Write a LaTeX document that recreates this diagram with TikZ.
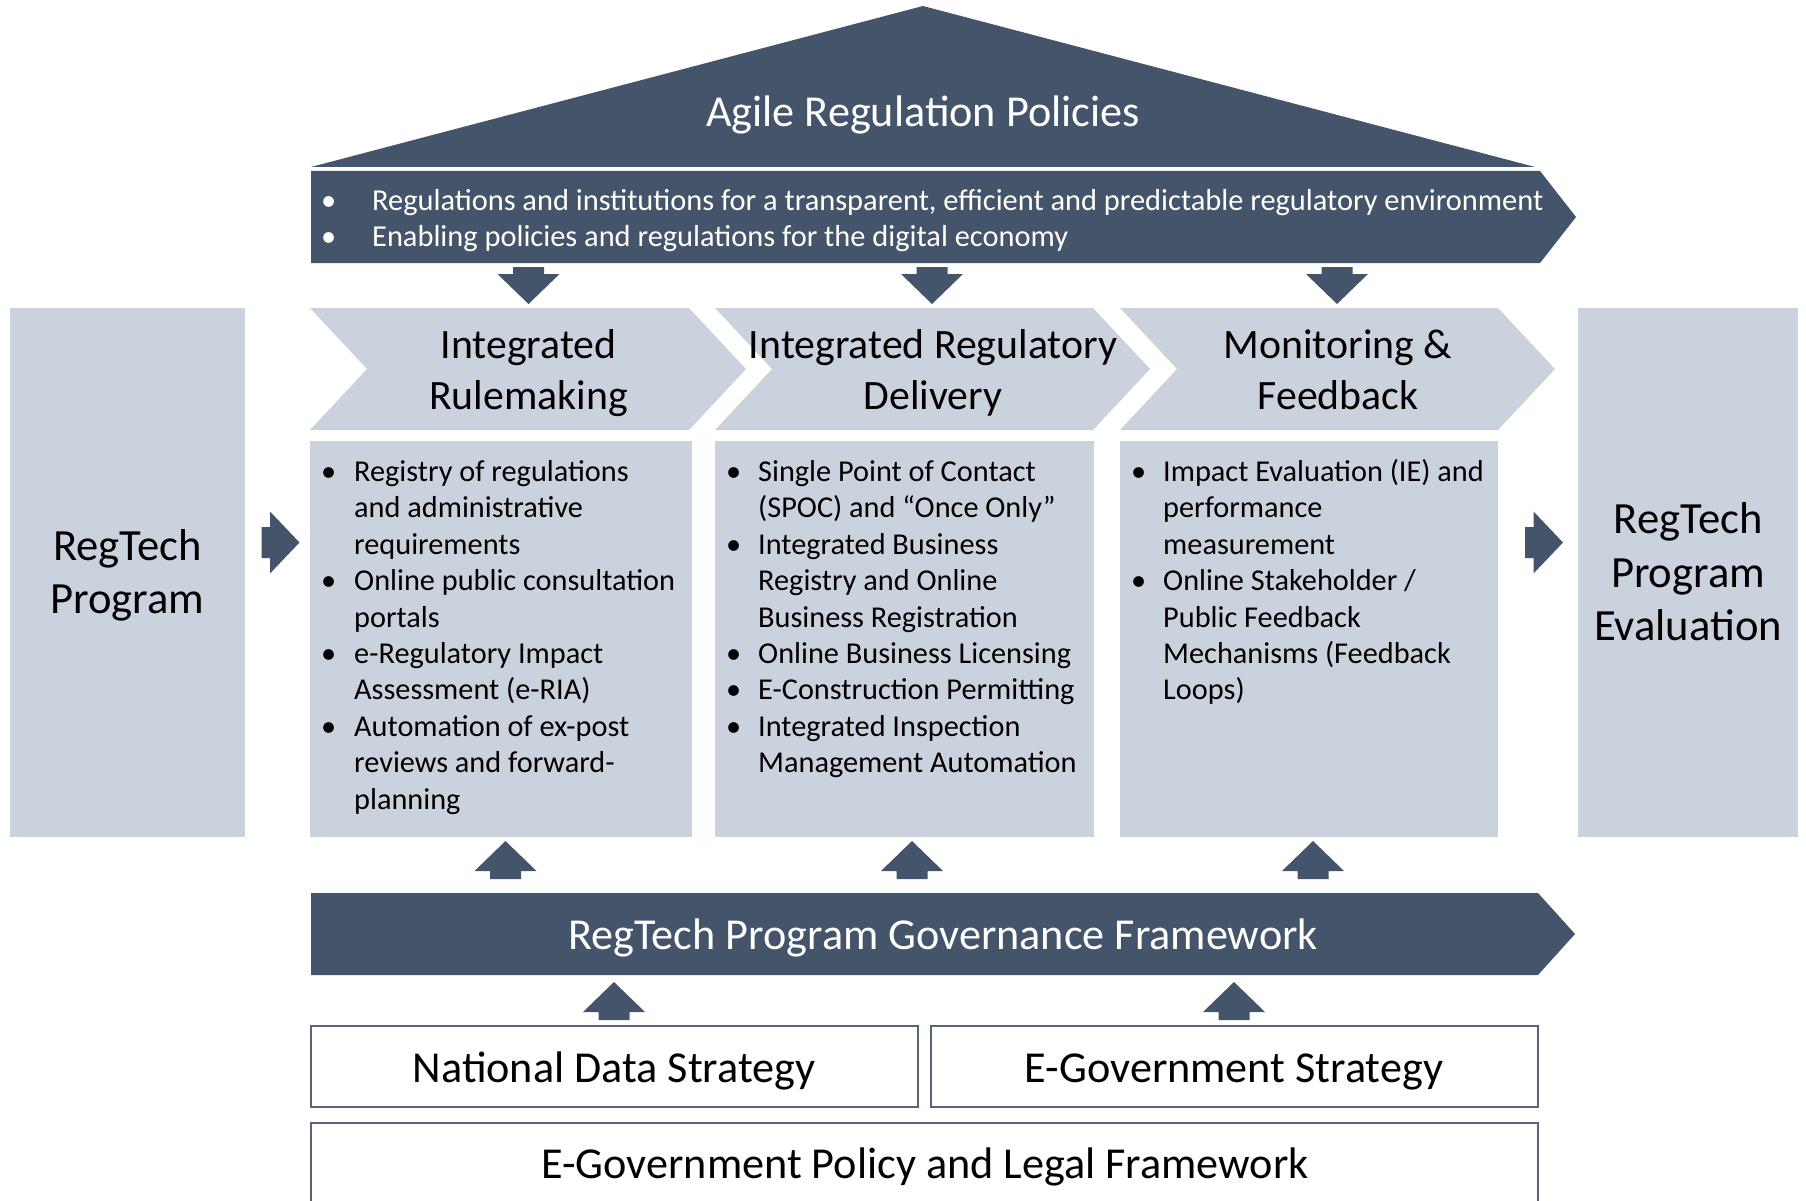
\documentclass[tikz,border=0pt]{standalone}
\usepackage{fontspec}
\setmainfont{Carlito}
\definecolor{darkc}{HTML}{44546A}
\definecolor{lightc}{HTML}{CAD2DE}
\newcommand\bul[1]{\makebox[#1][l]{\textbullet}}
\newcommand\ind[1]{\hspace*{#1}}
% block arrows: center x, start y / x
\newcommand\arrdown[2]{\fill[darkc] (#1-15.5,#2) -- (#1+15.5,#2) -- (#1+15.5,#2+7) -- (#1+31,#2+7) -- (#1,#2+37) -- (#1-31,#2+7) -- (#1-15.5,#2+7) -- cycle;}
\newcommand\arrup[2]{\fill[darkc] (#1-15.5,#2) -- (#1+15.5,#2) -- (#1+15.5,#2-8) -- (#1+31,#2-8) -- (#1,#2-38) -- (#1-31,#2-8) -- (#1-15.5,#2-8) -- cycle;}
\newcommand\arrright[2]{\fill[darkc] (#1,#2-15.5) -- (#1,#2+15.5) -- (#1+8.5,#2+15.5) -- (#1+8.5,#2+31) -- (#1+38,#2) -- (#1+8.5,#2-31) -- (#1+8.5,#2-15.5) -- cycle;}
\newcommand\chevron[2]{\fill[lightc] (#1,308) -- (#2,308) -- (#2+57,369) -- (#2,430) -- (#1,430) -- (#1+57,369) -- cycle;}
\begin{document}
\begin{tikzpicture}[x=1pt,y=-1pt,
  big/.style={font=\fontsize{44.2}{53.3}\selectfont, inner sep=0pt},
  side/.style={font=\fontsize{44.6}{53.3}\selectfont, inner sep=0pt},
  hdr/.style={font=\fontsize{41.8}{50.5}\selectfont, inner sep=0pt},
  body/.style={font=\fontsize{30.3}{36.4}\selectfont, inner sep=0pt, align=left},
  bannertxt/.style={font=\fontsize{30.4}{35.6}\selectfont, inner sep=0pt, align=left, text=white},
  outbox/.style={draw=darkc!90, line width=1.6pt, fill=white}]
\useasboundingbox (0,0) rectangle (1806,1201);
\fill[white] (0,0) rectangle (1806,1201);

% roof and banner
\fill[darkc] (311,167) -- (923,6) -- (1535,167) -- cycle;
\node[big, text=white, anchor=base] (roof) at (923,126.5) {Agile Regulation Policies};
\fill[darkc] (311,171) -- (1540,171) -- (1576,217) -- (1540,263) -- (311,263) -- cycle;
% anchor=base refers to the last line
\node[bannertxt, anchor=base west] (banner) at (321,246)
  {\bul{51pt}Regulations and institutions for a transparent, efficient and predictable regulatory environment\\
   \bul{51pt}Enabling policies and regulations for the digital economy};

% down arrows
\arrdown{528.5}{267}
\arrdown{932}{267}
\arrdown{1337}{267}

% chevrons
\chevron{310}{689}
\chevron{715}{1093}
\chevron{1120}{1498}
\node[hdr, anchor=base, align=center] (h1) at (528.5,409) {Integrated\\Rulemaking};
\node[hdr, anchor=base, align=center] (h2) at (933,409) {Integrated Regulatory\\Delivery};
\node[hdr, anchor=base, align=center] (h3) at (1338,409) {Monitoring \&\\Feedback};

% side boxes
\fill[lightc] (10,308) rectangle (245,837);
\fill[lightc] (1578,308) rectangle (1798,837);
\node[side, anchor=base, align=center] (prog) at (127.5,613.5) {RegTech\\Program};
\node[side, anchor=base, align=center] (eval) at (1688,640.5) {RegTech\\Program\\Evaluation};
\arrright{261.5}{542.5}
\arrright{1525}{542.5}

% content boxes
\fill[lightc] (310,441) rectangle (692,837);
\fill[lightc] (715,441) rectangle (1094,837);
\fill[lightc] (1120,441) rectangle (1498,837);
\node[body, anchor=base west] (c1) at (321,809)
  {\bul{33pt}Registry of regulations\\
   \ind{33pt}and administrative\\
   \ind{33pt}requirements\\
   \bul{33pt}Online public consultation\\
   \ind{33pt}portals\\
   \bul{33pt}e-Regulatory Impact\\
   \ind{33pt}Assessment (e-RIA)\\
   \bul{33pt}Automation of ex-post\\
   \ind{33pt}reviews and forward-\\
   \ind{33pt}planning};
\node[body, anchor=base west] (c2) at (726,772.6)
  {\bul{32pt}Single Point of Contact\\
   \ind{32pt}(SPOC) and “Once Only”\\
   \bul{32pt}Integrated Business\\
   \ind{32pt}Registry and Online\\
   \ind{32pt}Business Registration\\
   \bul{32pt}Online Business Licensing\\
   \bul{32pt}E-Construction Permitting\\
   \bul{32pt}Integrated Inspection\\
   \ind{32pt}Management Automation};
\node[body, anchor=base west] (c3) at (1131,699.8)
  {\bul{32pt}Impact Evaluation (IE) and\\
   \ind{32pt}performance\\
   \ind{32pt}measurement\\
   \bul{32pt}Online Stakeholder /\\
   \ind{32pt}Public Feedback\\
   \ind{32pt}Mechanisms (Feedback\\
   \ind{32pt}Loops)};

% up arrows to content
\arrup{505.5}{879}
\arrup{912}{879}
\arrup{1313}{879}

% governance banner
\fill[darkc] (311,893) -- (1538,893) -- (1575,934) -- (1538,975) -- (311,975) -- cycle;
\node[big, text=white, anchor=base] (gov) at (943,949.3) {RegTech Program Governance Framework};

% up arrows to governance
\arrup{614}{1020}
\arrup{1234}{1020}

% foundation boxes
\draw[outbox] (311,1026) rectangle (918,1107);
\draw[outbox] (931,1026) rectangle (1538,1107);
\draw[outbox] (311,1215) -- (311,1123) -- (1538,1123) -- (1538,1215);
\node[big, anchor=base] (nds) at (614,1082.3) {National Data Strategy};
\node[big, anchor=base] (egs) at (1234,1082.3) {E-Government Strategy};
\node[big, anchor=base] (egp) at (925,1178.5) {E-Government Policy and Legal Framework};
\end{tikzpicture}
\end{document}
